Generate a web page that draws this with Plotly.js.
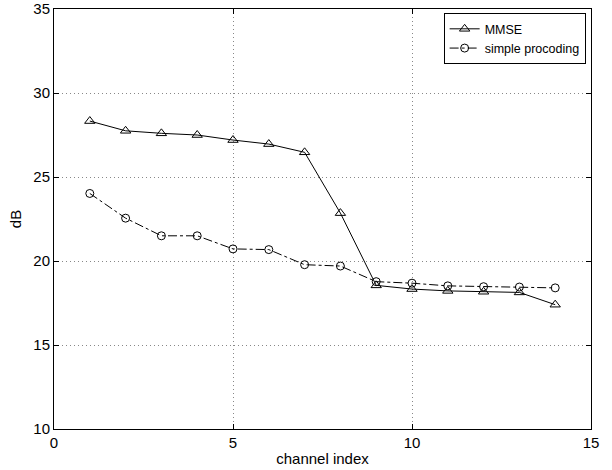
<!DOCTYPE html>
<html>
<head>
<meta charset="utf-8">
<script src="https://cdn.plot.ly/plotly-3.0.1.min.js"></script>
<style>html,body{margin:0;padding:0;background:#fff;}#chart{width:612px;height:470px;}</style>
</head>
<body>
<div id="chart"></div>
<script>
const channelIndex = [1,2,3,4,5,6,7,8,9,10,11,12,13,14];
const mmse = [28.33,27.75,27.6,27.5,27.2,26.96,26.47,22.85,18.55,18.33,18.22,18.17,18.13,17.4];
const simplePrecoding = [24.02,22.55,21.5,21.5,20.72,20.68,19.78,19.7,18.77,18.68,18.52,18.47,18.45,18.4];
const seriesNames = ["MMSE", "simple procoding"];
const xTicks = [0,5,10,15];
const yTicks = [10,15,20,25,30,35];

const traces = [
  {x: channelIndex, y: mmse, name: seriesNames[0], mode: 'lines+markers', type: 'scatter',
   line: {color: '#000', width: 1, dash: 'solid'},
   marker: {symbol: 'triangle-up-open', size: 9, color: '#000', line: {width: 1, color: '#000'}}},
  {x: channelIndex, y: simplePrecoding, name: seriesNames[1], mode: 'lines+markers', type: 'scatter',
   line: {color: '#000', width: 1, dash: 'dashdot'},
   marker: {symbol: 'circle-open', size: 8, color: '#000', line: {width: 1, color: '#000'}}}
];

const axisCommon = {
  showline: true, mirror: 'allticks', linecolor: '#000', linewidth: 1,
  ticks: 'inside', ticklen: 5, tickcolor: '#000',
  showgrid: true, gridcolor: '#888', griddash: '1px,3px', gridwidth: 1,
  zeroline: false, tickfont: {family: 'Liberation Sans, Arial, sans-serif', size: 15, color: '#000'}
};

const layout = {
  width: 612, height: 470,
  margin: {l: 54, r: 21, t: 9, b: 41},
  paper_bgcolor: '#fff', plot_bgcolor: '#fff',
  font: {family: 'Liberation Sans, Arial, sans-serif', size: 12, color: '#000'},
  showlegend: true,
  legend: {x: 0.99, y: 0.99, xanchor: 'right', yanchor: 'top', bordercolor: '#000', borderwidth: 1,
           bgcolor: '#fff', font: {size: 12.5}, tracegroupgap: 0, itemwidth: 30},
  xaxis: Object.assign({}, axisCommon, {range: [0, 15], tickvals: xTicks, ticktext: xTicks.map(String),
    title: {text: 'channel index', standoff: 3, font: {size: 15}}}),
  yaxis: Object.assign({}, axisCommon, {range: [10, 35], tickvals: yTicks, ticktext: yTicks.map(String),
    title: {text: 'dB', standoff: 8, font: {size: 15}}})
};

Plotly.newPlot('chart', traces, layout, {displayModeBar: false, staticPlot: true});
</script>
</body>
</html>
